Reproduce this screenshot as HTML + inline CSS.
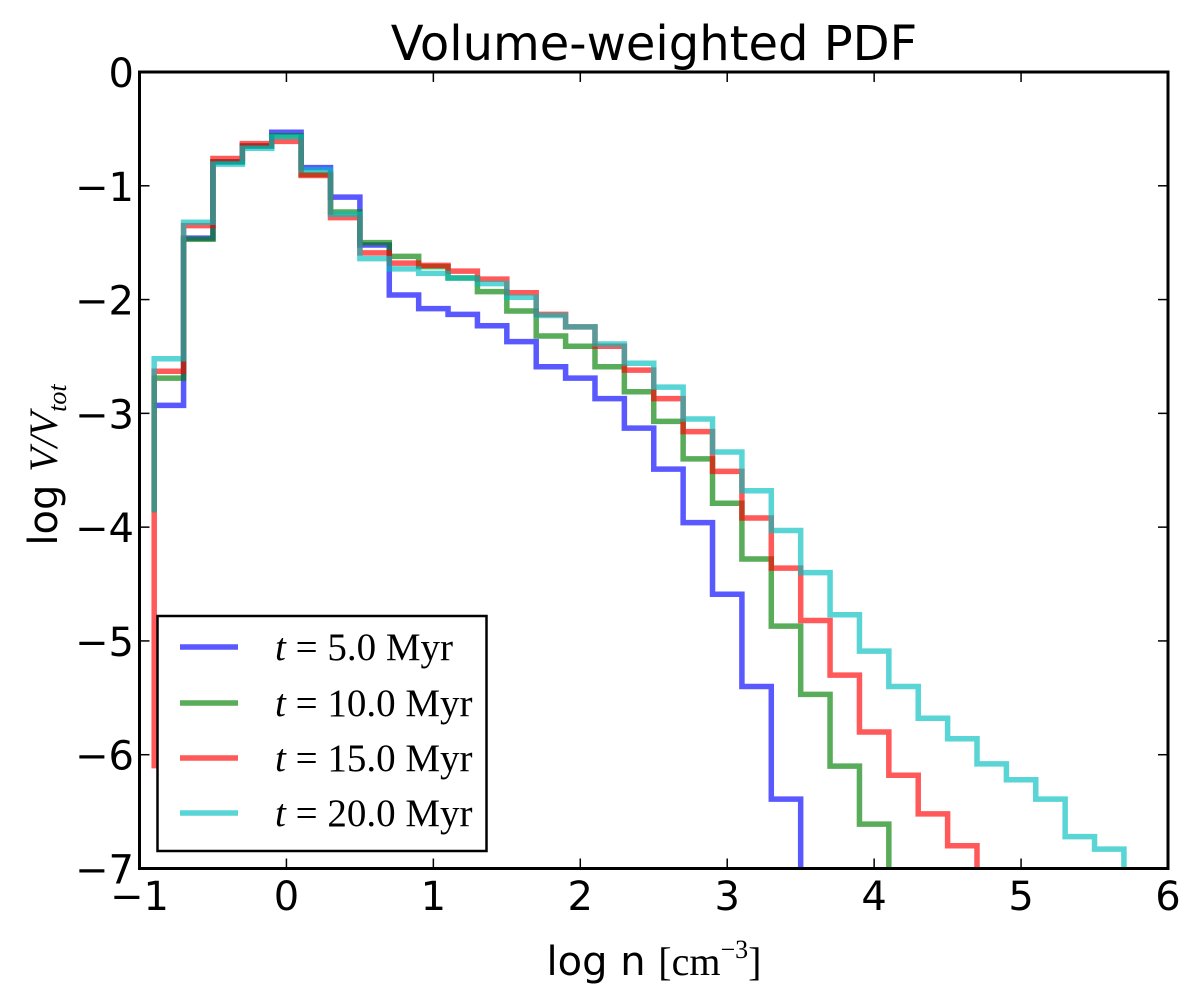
<!DOCTYPE html>
<html><head><meta charset="utf-8"><style>
body{margin:0;background:#fff;}
svg{display:block;}
.tk{font-family:"DejaVu Sans","Liberation Sans",sans-serif;font-size:40px;fill:#000;}
.lg{font-family:"Liberation Serif","DejaVu Serif",serif;font-size:39px;fill:#000;}
</style></head><body>
<svg id="chart" width="1200" height="1001" viewBox="0 0 1200 1001" xmlns="http://www.w3.org/2000/svg">
<text x="654" y="60" text-anchor="middle" class="tk" style="font-size:48px">Volume-weighted PDF</text>
<g id="series"></g>
<rect x="139.5" y="72" width="1028.5" height="796.5" fill="none" stroke="#000" stroke-width="3"/>
<g id="ticks"></g>
<text x="654" y="975" text-anchor="middle" class="tk">log n <tspan font-family="Liberation Serif, serif">[cm</tspan><tspan font-family="Liberation Serif, serif" font-size="26" dy="-17">−3</tspan><tspan font-family="Liberation Serif, serif" dy="17">]</tspan></text>
<text transform="translate(57,465) rotate(-90)" text-anchor="middle" class="tk">log  <tspan font-family="Liberation Serif, serif" font-style="italic">V/V</tspan><tspan font-family="Liberation Serif, serif" font-style="italic" font-size="26" dy="9">tot</tspan></text>
<g>
<rect x="157.5" y="616" width="329" height="235" fill="#fff" stroke="#000" stroke-width="2.5"/>
<g id="legend-items"></g>
</g>
</svg>
<script>
const labels = ["t = 5.0 Myr","t = 10.0 Myr","t = 15.0 Myr","t = 20.0 Myr"];
const colors = ["#0000ff","#008000","#ff0000","#00bfbf"];
const firstEdge = -0.9;
const binWidth = 0.2;
const startVals = [-2.93,-3.87,-6.12,-3.87];
const blueVals = [-2.93,-1.46,-0.79,-0.65,-0.53,-0.84,-1.10,-1.52,-1.96,-2.08,-2.13,-2.23,-2.37,-2.59,-2.69,-2.87,-3.13,-3.49,-3.96,-4.59,-5.40,-6.39];
const greenVals = [-2.69,-1.47,-0.79,-0.65,-0.56,-0.90,-1.23,-1.50,-1.62,-1.71,-1.81,-1.93,-2.10,-2.32,-2.41,-2.59,-2.81,-3.07,-3.40,-3.79,-4.28,-4.87,-5.47,-6.10,-6.61];
const redVals = [-2.63,-1.35,-0.76,-0.63,-0.61,-0.91,-1.28,-1.59,-1.68,-1.70,-1.75,-1.82,-1.94,-2.13,-2.24,-2.41,-2.62,-2.87,-3.16,-3.51,-3.92,-4.36,-4.82,-5.30,-5.80,-6.18,-6.52,-6.80];
const cyanVals = [-2.52,-1.32,-0.81,-0.67,-0.57,-0.86,-1.25,-1.64,-1.73,-1.77,-1.81,-1.86,-1.98,-2.14,-2.24,-2.39,-2.56,-2.77,-3.05,-3.34,-3.68,-4.03,-4.40,-4.77,-5.09,-5.40,-5.68,-5.86,-6.08,-6.22,-6.39,-6.72,-6.83];
const xTicks = [-1,0,1,2,3,4,5,6];
const yTicks = [0,-1,-2,-3,-4,-5,-6,-7];
const xTickLabels = ["−1","0","1","2","3","4","5","6"];
const yTickLabels = ["0","−1","−2","−3","−4","−5","−6","−7"];

const X0=139.5,X1=1168,Y0=72,Y1=868.5;
function xs(v){return X0+(v-(-1))/7*(X1-X0);}
function ys(v){return Y0+(0-v)/7*(Y1-Y0);}
const NS="http://www.w3.org/2000/svg";
const all=[blueVals,greenVals,redVals,cyanVals];
const names=['series-5myr','series-10myr','series-15myr','series-20myr'];
const g=document.getElementById('series');
const clip=document.createElementNS(NS,'clipPath');clip.setAttribute('id','pc');
const cr=document.createElementNS(NS,'rect');cr.setAttribute('x',X0);cr.setAttribute('y',Y0);cr.setAttribute('width',X1-X0);cr.setAttribute('height',Y1-Y0);
clip.appendChild(cr);g.appendChild(clip);
all.forEach((vals,i)=>{
  let d='M'+xs(firstEdge)+' '+ys(startVals[i]);
  vals.forEach((v,k)=>{
    const a=firstEdge+k*binWidth,b=a+binWidth;
    d+=' L'+xs(a)+' '+ys(v)+' L'+xs(b)+' '+ys(v);
  });
  d+=' L'+xs(firstEdge+vals.length*binWidth)+' '+ys(-7.5);
  const p=document.createElementNS(NS,'path');
  p.setAttribute('d',d);p.setAttribute('fill','none');p.setAttribute('stroke',colors[i]);
  p.setAttribute('stroke-opacity','0.65');p.setAttribute('stroke-width','5.5');
  p.setAttribute('clip-path','url(#pc)');
  
  
  g.appendChild(p);
});
const t=document.getElementById('ticks');
function line(x1,y1,x2,y2){const l=document.createElementNS(NS,'line');l.setAttribute('x1',x1);l.setAttribute('y1',y1);l.setAttribute('x2',x2);l.setAttribute('y2',y2);l.setAttribute('stroke','#000');l.setAttribute('stroke-width','1.5');


t.appendChild(l);}
xTicks.forEach((v,i)=>{
  const x=xs(v);line(x,Y1,x,Y1-10);line(x,Y0,x,Y0+10);
  const tx=document.createElementNS(NS,'text');tx.setAttribute('x',x);tx.setAttribute('y',910);tx.setAttribute('text-anchor','middle');tx.setAttribute('class','tk');tx.textContent=xTickLabels[i];
  
  
  t.appendChild(tx);
});
yTicks.forEach((v,i)=>{
  const y=ys(v);line(X0,y,X0+10,y);line(X1,y,X1-10,y);
  const tx=document.createElementNS(NS,'text');tx.setAttribute('x',134);tx.setAttribute('y',y+15);tx.setAttribute('text-anchor','end');tx.setAttribute('class','tk');tx.textContent=yTickLabels[i];
  
  
  t.appendChild(tx);
});
const li=document.getElementById('legend-items');
const ly=[647,703,758,813];
labels.forEach((lab,i)=>{
  const l=document.createElementNS(NS,'line');l.setAttribute('x1',180);l.setAttribute('x2',238);l.setAttribute('y1',ly[i]);l.setAttribute('y2',ly[i]);
  l.setAttribute('stroke',colors[i]);l.setAttribute('stroke-opacity','0.65');l.setAttribute('stroke-width','5.5');
  
  
  li.appendChild(l);
  const tx=document.createElementNS(NS,'text');tx.setAttribute('x',275);tx.setAttribute('y',ly[i]+13);tx.setAttribute('class','lg');
  const parts=lab.split(' ');
  tx.innerHTML='<tspan font-style="italic">t</tspan> = '+parts[2]+' Myr';
  
  
  li.appendChild(tx);
});
</script>
</body></html>
